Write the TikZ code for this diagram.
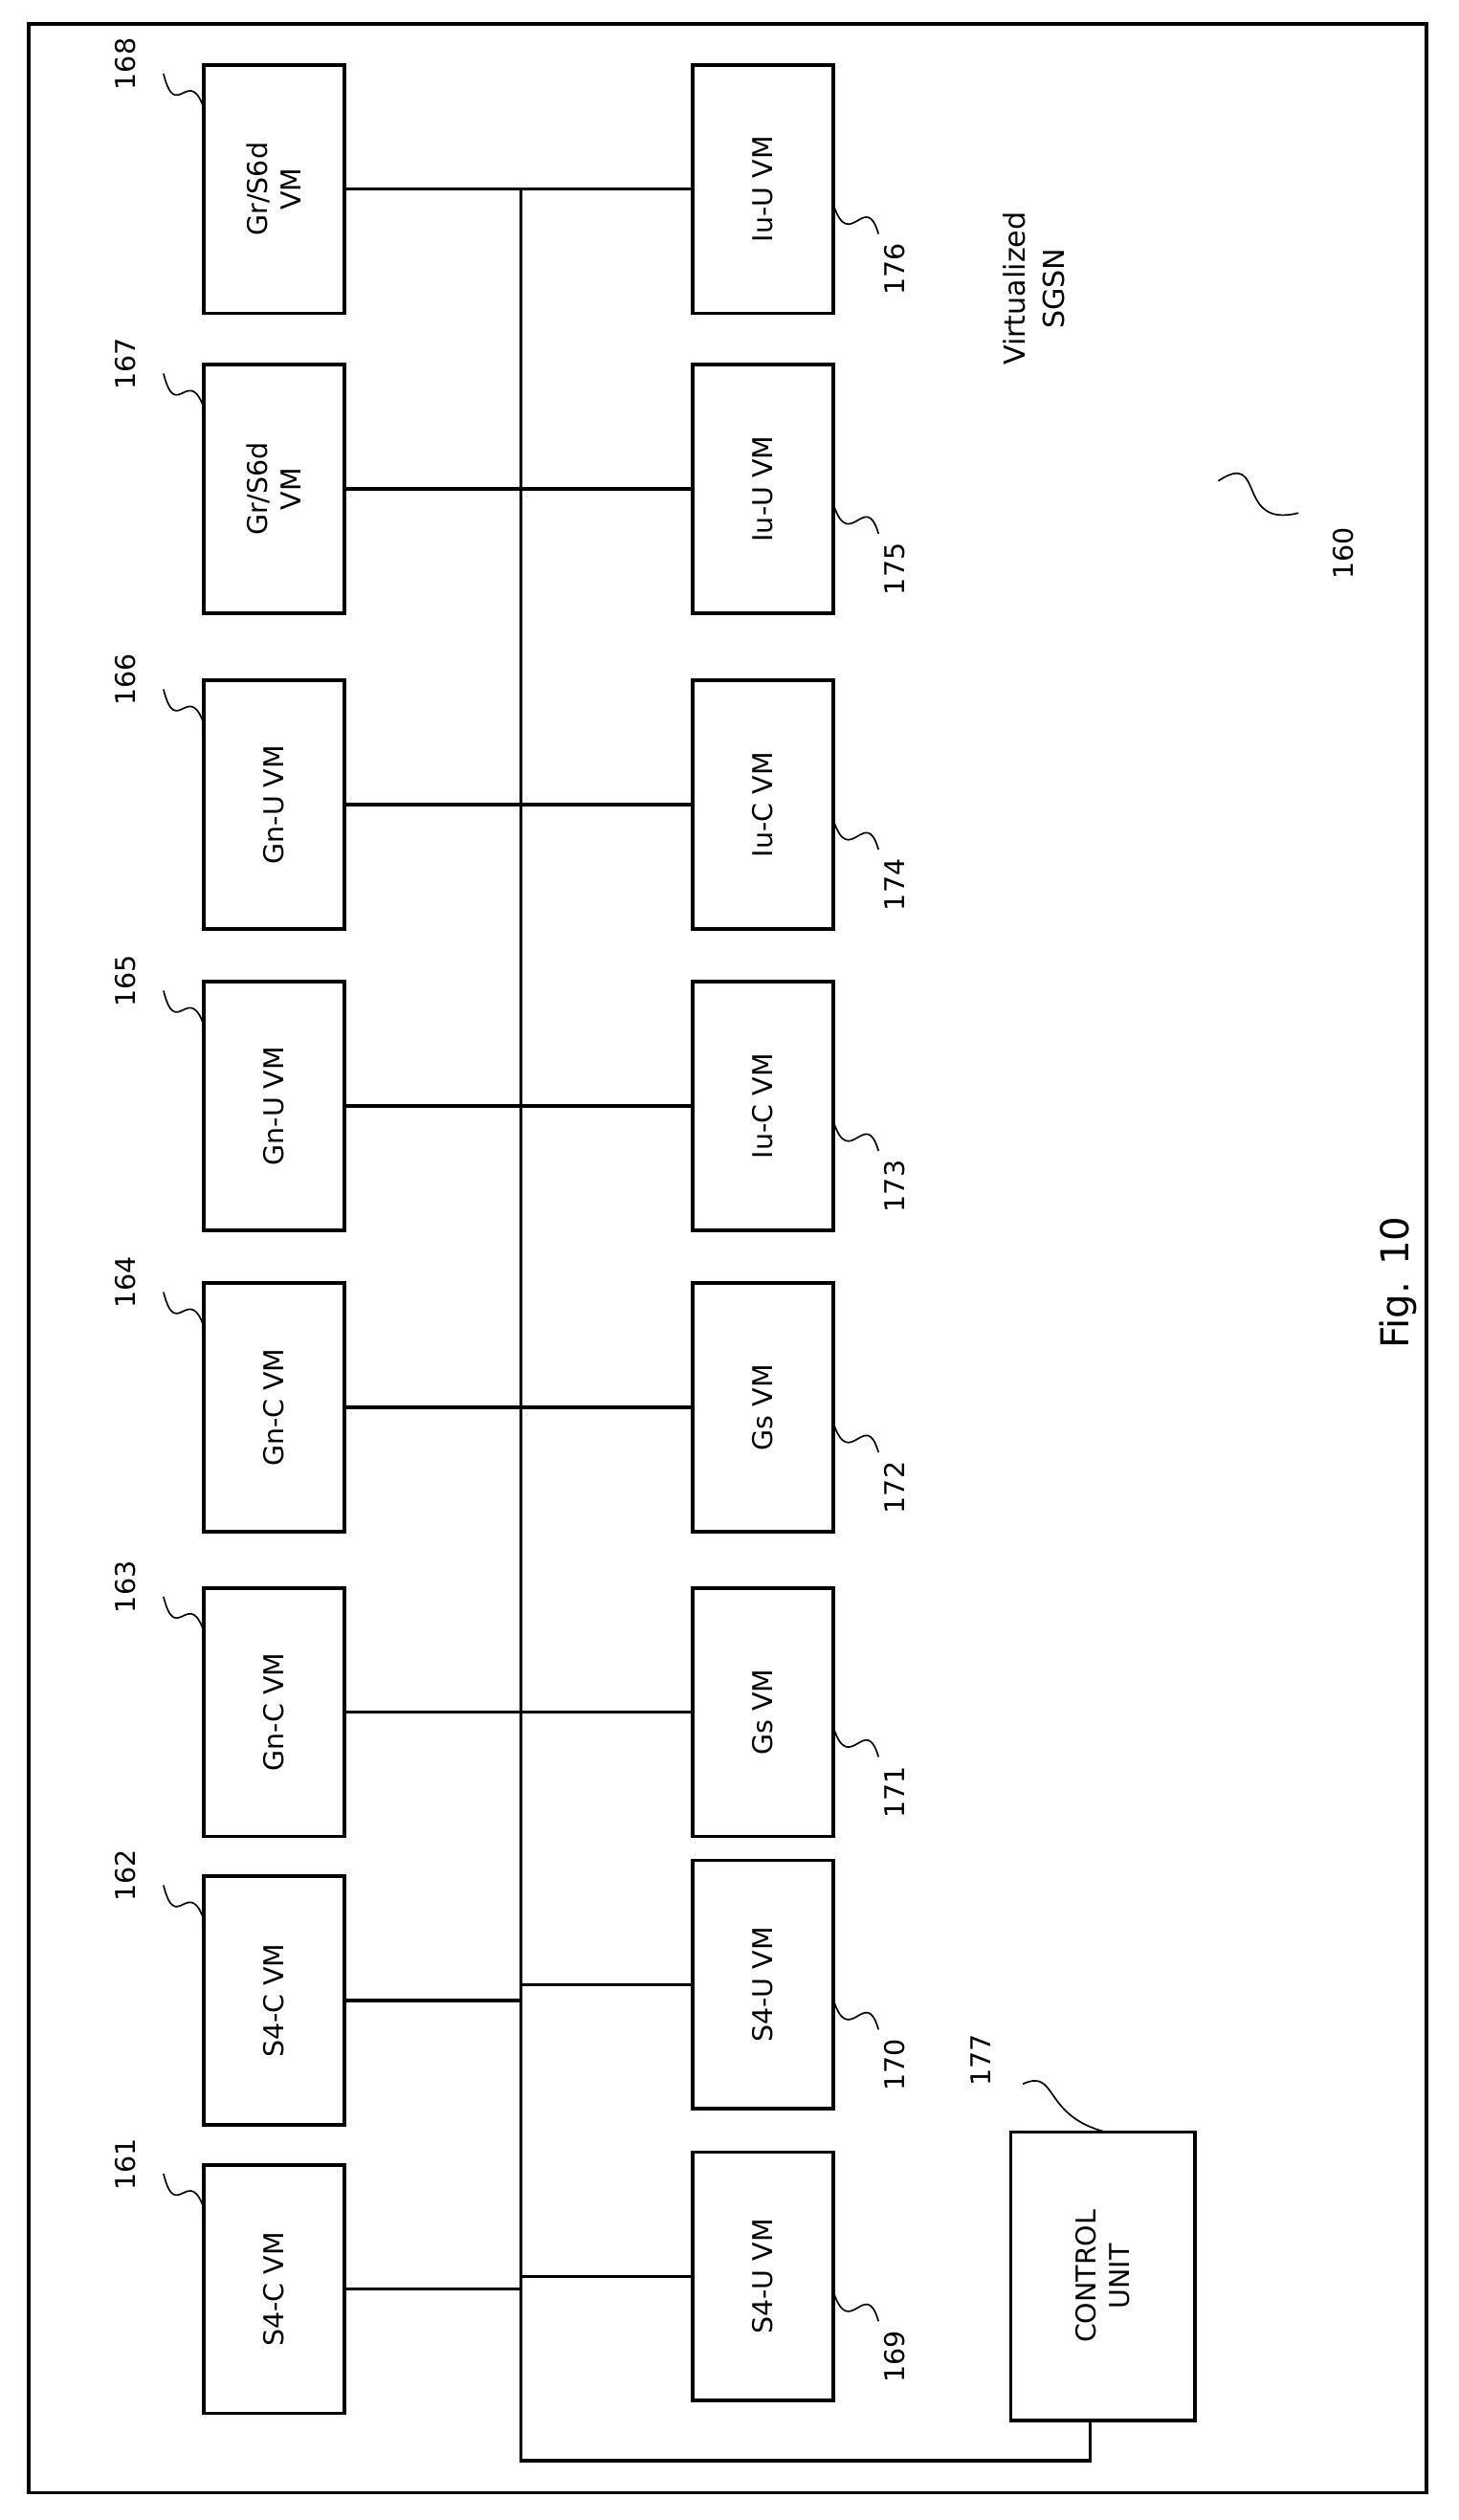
\documentclass[tikz,border=0pt]{standalone}
\usepackage{fontspec}
\setmainfont{DejaVu Sans}
\begin{document}
\begin{tikzpicture}[x=1pt,y=-1pt,
    vm/.style={draw,line width=2.2pt,minimum width=155pt,minimum height=88pt,
      rotate=90,align=center,font=\fontsize{17}{21}\selectfont},
    num/.style={rotate=90,font=\fontsize{17}{20}\selectfont},
    link/.style={line width=2pt}]
  \useasboundingbox (0,0) rectangle (910,1572);
  \draw[line width=2.2pt] (18,15) rectangle (890,1555);
  % upper column
  \foreach \y/\t/\n in {118/{Gr/S6d\\VM}/168,305/{Gr/S6d\\VM}/167,502/Gn-U VM/166,
      690/Gn-U VM/165,878/Gn-C VM/164,1068/Gn-C VM/163,1248/S4-C VM/162,1428/S4-C VM/161}{
    \node[vm] (b\n) at (171,\y) {\t};
    \node[num] (l\n) at (78,\y-78) {\n};
    \draw[line width=1pt] (102,\y-72) .. controls (110,\y-40) and (118,\y-80) .. (128,\y-48);
  }
  % lower column
  \foreach \y/\t/\n in {118/Iu-U VM/176,305/Iu-U VM/175,502/Iu-C VM/174,
      690/Iu-C VM/173,878/Gs VM/172,1068/Gs VM/171,1238/S4-U VM/170,1420/S4-U VM/169}{
    \node[vm] (b\n) at (476,\y) {\t};
    \node[num] (l\n) at (558,\y+50) {\n};
    \draw[line width=1pt] (520,\y+10) .. controls (530,\y+40) and (540,\y) .. (548,\y+28);
  }
  \node[vm,minimum width=180pt,minimum height=115pt] (ctrl) at (688,1420) {CONTROL\\UNIT};
  \node[num] (l177) at (612,1285) {177};
  \draw[line width=1pt] (638,1300) .. controls (660,1290) and (650,1320) .. (690,1330);
  \node[num,align=center,font=\fontsize{18}{24}\selectfont] (title) at (645,180) {Virtualized\\SGSN};
  \node[num] (l160) at (838,345) {160};
  \draw[line width=1pt] (760,300) .. controls (790,280) and (770,330) .. (810,320);
  \node[num,font=\fontsize{24}{28}\selectfont] (fig) at (872,800) {Fig. 10};
  % bus
  \coordinate (top) at (325,118);
  \coordinate (bot) at (325,1535);
  \coordinate (turn) at (680,1535);
  \draw[link] (top) -- (bot) -- (turn) -- (turn |- ctrl.west);
  \foreach \n in {161,...,168}{
    \draw[link] (b\n.south) -- (b\n.south -| top);
  }
  \foreach \n in {169,...,176}{
    \draw[link] (b\n.north) -- (b\n.north -| top);
  }
\end{tikzpicture}
\end{document}
